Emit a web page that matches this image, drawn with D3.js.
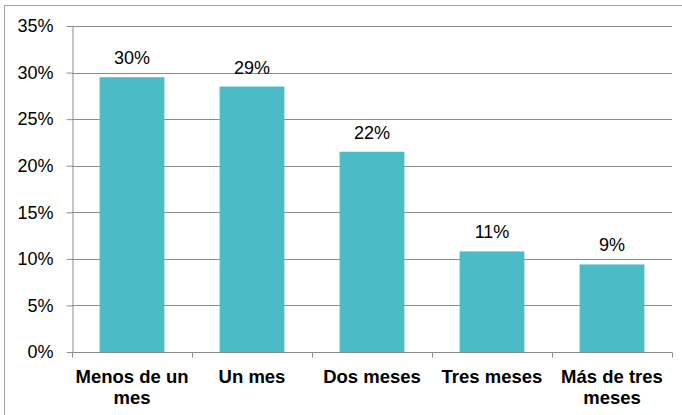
<!DOCTYPE html>
<html>
<head>
<meta charset="utf-8">
<script src="https://cdn.jsdelivr.net/npm/d3@7"></script>
<style>
  body { margin: 0; background: #fff; }
  svg { display: block; font-family: "Liberation Sans", Arial, sans-serif; }
</style>
</head>
<body>
<svg id="chart" width="682" height="415"></svg>
<script>
// chart data
const categories = [['Menos de un', 'mes'], ['Un mes'], ['Dos meses'], ['Tres meses'], ['Más de tres', 'meses']];
const values = [0.295, 0.285, 0.215, 0.108, 0.094];
const valueLabels = ['30%', '29%', '22%', '11%', '9%'];
const yTicks = [0, 0.05, 0.10, 0.15, 0.20, 0.25, 0.30, 0.35];

const svg = d3.select('svg#chart');

// outer frame of the chart area
svg.append('rect')
  .attr('x', 4.5)
  .attr('y', 5.5)
  .attr('width', 690)
  .attr('height', 420)
  .attr('fill', 'none')
  .attr('stroke', '#a0a0a0');

const PLOT_LEFT = 72;
const PLOT_RIGHT = 672;
const PLOT_TOP = 26;
const PLOT_BOTTOM = 352;

const x = d3.scaleBand()
  .domain(d3.range(categories.length))
  .range([PLOT_LEFT, PLOT_RIGHT])
  .paddingInner(0.46)
  .paddingOuter(0.23);

const y = d3.scaleLinear()
  .domain([0, 0.35])
  .range([PLOT_BOTTOM, PLOT_TOP]);

// gridlines
svg.append('g')
  .selectAll('line')
  .data(yTicks.slice(1))
  .enter()
  .append('line')
  .attr('x1', PLOT_LEFT)
  .attr('x2', PLOT_RIGHT)
  .attr('y1', (d) => Math.round(y(d)) + 0.5)
  .attr('y2', (d) => Math.round(y(d)) + 0.5)
  .attr('stroke', '#8c8c8c');

// y axis
const yAxis = svg.append('g')
  .attr('transform', `translate(${PLOT_LEFT + 0.5},0)`)
  .call(d3.axisLeft(y).tickValues(yTicks).tickSize(6).tickSizeOuter(0)
    .tickFormat(d3.format('.0%')));
yAxis.select('.domain').attr('stroke', '#8c8c8c');
yAxis.selectAll('.tick line').attr('stroke', '#8c8c8c');
yAxis.selectAll('.tick text')
  .attr('x', -19)
  .attr('font-size', '18px')
  .attr('font-family', '"Liberation Sans", Arial, sans-serif')
  .attr('fill', '#000');

// bars
svg.append('g')
  .selectAll('rect')
  .data(values)
  .enter()
  .append('rect')
  .attr('x', (d, i) => x(i))
  .attr('y', (d) => y(d))
  .attr('width', x.bandwidth())
  .attr('height', (d) => PLOT_BOTTOM - y(d))
  .attr('fill', '#4bbcc6');

// value labels
svg.append('g')
  .selectAll('text')
  .data(values)
  .enter()
  .append('text')
  .attr('x', (d, i) => x(i) + x.bandwidth() / 2)
  .attr('y', (d) => y(d) - 13)
  .attr('text-anchor', 'middle')
  .attr('font-size', '18px')
  .attr('fill', '#000')
  .text((d, i) => valueLabels[i]);

// x axis with ticks at category boundaries
const xb = svg.append('g').attr('transform', `translate(0,${PLOT_BOTTOM + 0.5})`);
xb.append('line')
  .attr('x1', PLOT_LEFT)
  .attr('x2', PLOT_RIGHT)
  .attr('stroke', '#8c8c8c');
xb.selectAll('line.tick')
  .data(d3.range(categories.length + 1))
  .enter()
  .append('line')
  .attr('class', 'tick')
  .attr('x1', (i) => PLOT_LEFT + i * x.step() + 0.5)
  .attr('x2', (i) => PLOT_LEFT + i * x.step() + 0.5)
  .attr('y1', 0)
  .attr('y2', 5)
  .attr('stroke', '#8c8c8c');

// category labels (two lines where needed)
const labels = svg.append('g')
  .selectAll('text')
  .data(categories)
  .enter()
  .append('text')
  .attr('x', (d, i) => x(i) + x.bandwidth() / 2)
  .attr('y', 383)
  .attr('text-anchor', 'middle')
  .attr('font-size', '18.5px')
  .attr('font-weight', 'bold')
  .attr('fill', '#000');
labels.selectAll('tspan')
  .data((d) => d)
  .enter()
  .append('tspan')
  .attr('x', function () { return d3.select(this.parentNode).attr('x'); })
  .attr('dy', (d, i) => (i === 0 ? 0 : 21))
  .text((d) => d);
</script>
</body>
</html>
